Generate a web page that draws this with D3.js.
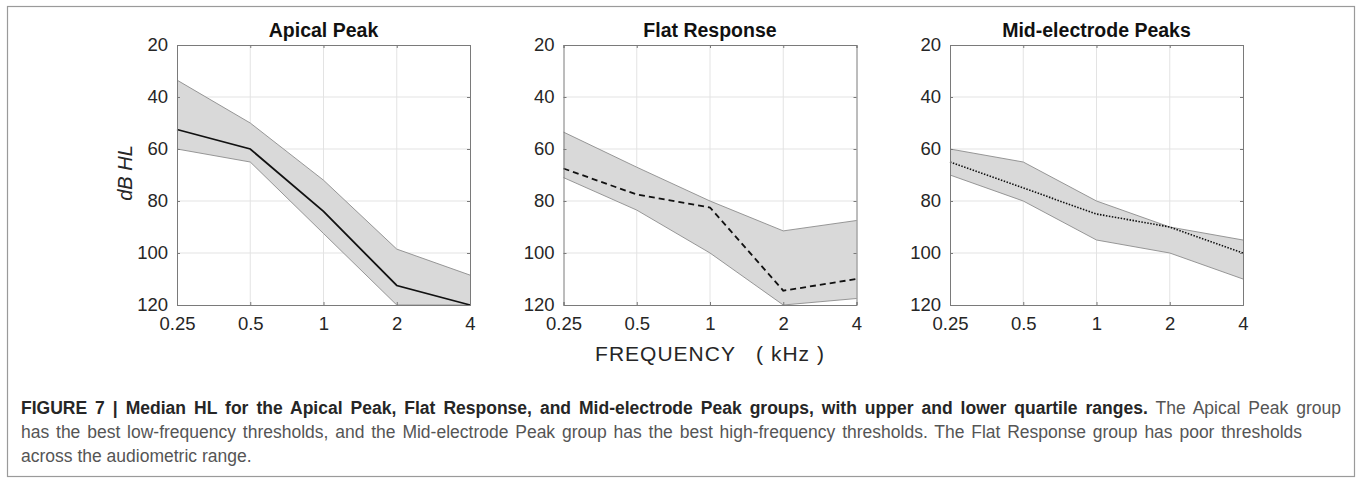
<!DOCTYPE html>
<html>
<head>
<meta charset="utf-8">
<script src="https://cdn.jsdelivr.net/npm/d3@7"></script>
<style>
  html, body { margin: 0; padding: 0; background: #fff; }
  svg { display: block; }
  text { font-family: "Liberation Sans", Arial, sans-serif; }
</style>
</head>
<body>
<div id="chart"></div>
<script>
// data (dB HL, larger = worse)
var freqs = ["0.25", "0.5", "1", "2", "4"];
var yTicks = [20, 40, 60, 80, 100, 120];
var titles = ["Apical Peak", "Flat Response", "Mid-electrode Peaks"];

var apicalMedian = [52.5, 60, 84, 112.5, 120];
var apicalUpper  = [33.5, 50, 72, 98.5, 108.5];
var apicalLower  = [60, 65, 92.5, 120, 120];

var flatMedian = [67.5, 77.5, 82.5, 114.5, 110];
var flatUpper  = [53.5, 67, 80, 91.5, 87.5];
var flatLower  = [71, 83.5, 100, 120, 117.5];

var midMedian = [65, 75, 85, 90, 100];
var midUpper  = [60, 65, 80, 90, 95];
var midLower  = [70, 80, 95, 100, 110];

var panels = [
  {title: titles[0], med: apicalMedian, up: apicalUpper, lo: apicalLower, dash: null},
  {title: titles[1], med: flatMedian, up: flatUpper, lo: flatLower, dash: "6,4"},
  {title: titles[2], med: midMedian, up: midUpper, lo: midLower, dash: "1.5,1.5"}
];

var W = 1357, H = 480;
var svg = d3.select("#chart").append("svg").attr("width", W).attr("height", H);

// outer frame
svg.append("rect")
  .attr("x", 7.5).attr("y", 6.5)
  .attr("width", 1347).attr("height", 470)
  .attr("fill", "none").attr("stroke", "#9a9a9a").attr("stroke-width", 1.2);

var pw = 293, ph = 260, plotTop = 45;
var lefts = [177, 563.5, 950];

var x = d3.scalePoint().domain(freqs).range([0, pw]);
var y = d3.scaleLinear().domain([20, 120]).range([0, ph]);

panels.forEach(function(p, k) {
  var g = svg.append("g").attr("transform", "translate(" + lefts[k] + "," + plotTop + ")");

  // grid
  g.append("g").selectAll("line").data(freqs.slice(1, -1)).enter().append("line")
    .attr("x1", function(d) { return x(d); }).attr("x2", function(d) { return x(d); })
    .attr("y1", 0).attr("y2", ph)
    .attr("stroke", "#e3e3e3").attr("stroke-width", 1);
  g.append("g").selectAll("line").data(yTicks.slice(1, -1)).enter().append("line")
    .attr("y1", function(d) { return y(d); }).attr("y2", function(d) { return y(d); })
    .attr("x1", 0).attr("x2", pw)
    .attr("stroke", "#e3e3e3").attr("stroke-width", 1);

  // quartile band
  var rows = freqs.map(function(f, i) { return {f: f, up: p.up[i], lo: p.lo[i], med: p.med[i]}; });
  var area = d3.area()
    .x(function(d) { return x(d.f); })
    .y0(function(d) { return y(d.lo); })
    .y1(function(d) { return y(d.up); });
  g.append("path").datum(rows)
    .attr("d", area)
    .attr("fill", "#d9d9d9").attr("stroke", "none");
  ["up", "lo"].forEach(function(key) {
    g.append("path").datum(rows)
      .attr("d", d3.line().x(function(d) { return x(d.f); }).y(function(d) { return y(d[key]); }))
      .attr("fill", "none").attr("stroke", "#8c8c8c").attr("stroke-width", 0.9);
  });

  // median
  g.append("path").datum(rows)
    .attr("d", d3.line().x(function(d) { return x(d.f); }).y(function(d) { return y(d.med); }))
    .attr("fill", "none").attr("stroke", "#111").attr("stroke-width", p.dash === "1.5,1.5" ? 1.6 : 1.8)
    .attr("stroke-dasharray", p.dash);

  // axes box (MATLAB style, ticks inward)
  var yAx = g.append("g").call(d3.axisLeft(y).tickValues(yTicks).tickSize(-3).tickPadding(9));
  var xAx = g.append("g").attr("transform", "translate(0," + ph + ")")
    .call(d3.axisBottom(x).tickSize(-3).tickPadding(12));
  g.append("g").attr("transform", "translate(" + pw + ",0)")
    .call(d3.axisRight(y).tickValues(yTicks).tickSize(-3).tickFormat(""));
  g.append("g").call(d3.axisTop(x).tickSize(-3).tickFormat(""));

  g.selectAll(".domain").attr("stroke", "#7a7a7a").attr("stroke-width", 1);
  g.selectAll(".tick line").attr("stroke", "#7a7a7a");
  [yAx, xAx].forEach(function(a) {
    a.selectAll("text").attr("fill", "#262626").style("font-size", "18.5px")
      .style("font-family", "'Liberation Sans', Arial, sans-serif");
  });

  // title
  g.append("text")
    .attr("x", pw / 2).attr("y", -8)
    .attr("text-anchor", "middle")
    .style("font-size", "19.5px").style("font-weight", "bold").attr("fill", "#111")
    .text(p.title);
});

// axis labels
svg.append("text")
  .attr("transform", "translate(132," + (plotTop + ph / 2 - 2) + ") rotate(-90)")
  .attr("text-anchor", "middle")
  .style("font-size", "20px").style("font-style", "italic").attr("fill", "#262626")
  .text("dB HL");

svg.append("text")
  .attr("x", lefts[1] + pw / 2).attr("y", 361)
  .attr("text-anchor", "middle")
  .style("font-size", "21px").style("letter-spacing", "1px").style("white-space", "pre").attr("fill", "#262626")
  .text("FREQUENCY   ( kHz )");

// caption, first two lines justified to the frame
var capX = 21;
var capLines = [
  [{t: "FIGURE 7 | Median HL for the Apical Peak, Flat Response, and Mid-electrode Peak groups, with upper and lower quartile ranges.", b: true},
   {t: " The Apical Peak group", b: false}],
  [{t: "has the best low-frequency thresholds, and the Mid-electrode Peak group has the best high-frequency thresholds. The Flat Response group has poor thresholds", b: false}],
  [{t: "across the audiometric range.", b: false}]
];
var capRight = [1341, 1302, null];
capLines.forEach(function(line, i) {
  var t = svg.append("text")
    .attr("x", capX).attr("y", 414 + i * 24)
    .style("font-size", "17.5px").style("white-space", "pre");
  var spaces = 0;
  line.forEach(function(s) {
    t.append("tspan").text(s.t)
      .style("font-weight", s.b ? "bold" : "normal")
      .attr("fill", s.b ? "#262626" : "#555");
    spaces += (s.t.match(/ /g) || []).length;
  });
  if (capRight[i]) {
    var natural = t.node().getComputedTextLength();
    var ws = (capRight[i] - capX - natural) / spaces;
    t.style("word-spacing", ws + "px");
  }
});
</script>
</body>
</html>
